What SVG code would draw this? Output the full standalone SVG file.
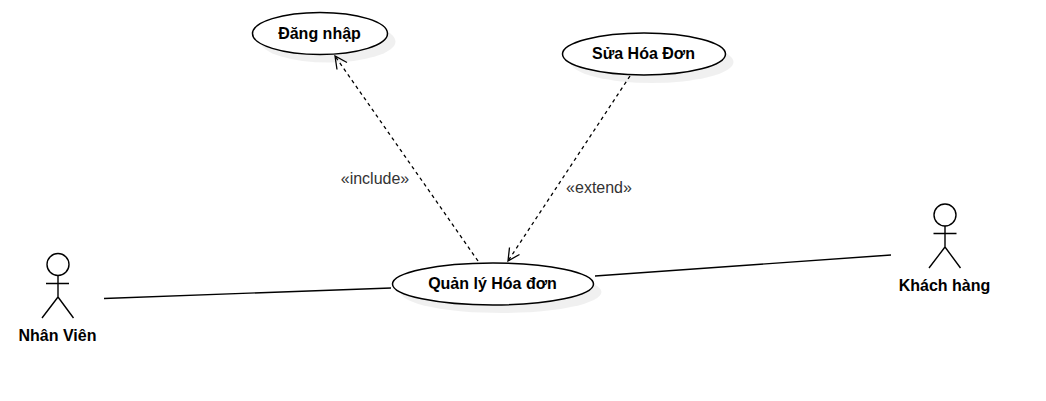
<svg xmlns="http://www.w3.org/2000/svg" width="1046" height="401" viewBox="0 0 1046 401">
<style>
.uc{fill:#fff;stroke:#000;stroke-width:1.5}
.sh{fill:#000;fill-opacity:.06;stroke:none}
.ln{fill:none;stroke:#000;stroke-width:1.3}
.d{fill:none;stroke:#000;stroke-width:1.3;stroke-dasharray:3.500 3.500}
.ah{fill:none;stroke:#000;stroke-width:1.3}
.act{fill:none;stroke:#000;stroke-width:1.4}
text{font-family:"Liberation Sans",Arial,sans-serif;font-size:16px;text-anchor:middle}
.b{font-weight:bold;fill:#000}
.l{fill:#333;font-size:16px}
</style>
<rect width="1046" height="401" fill="#fff"/>
<g id="connectors">
<line class="ln" x1="104" y1="298.500" x2="391" y2="288"/>
<line class="ln" x1="595" y1="276" x2="891" y2="255"/>
<line class="d" x1="478" y1="261" x2="335" y2="56"/>
<path class="ah" d="M337 69.500L335 56L347 62.500"/>
<line class="d" x1="630" y1="76" x2="508" y2="261"/>
<path class="ah" d="M509.500 247.500L508 261L519.500 254.500"/>
<text class="l" x="375" y="184">«include»</text>
<text class="l" x="599" y="193">«extend»</text>
</g>
<g id="uc-dangnhap">
<ellipse class="sh" cx="328" cy="41.500" rx="67.500" ry="21"/>
<ellipse class="uc" cx="320" cy="33.500" rx="67.500" ry="21"/>
<text class="b" x="319.500" y="39">Đăng nhập</text>
</g>
<g id="uc-suahoadon">
<ellipse class="sh" cx="652" cy="62" rx="81.500" ry="21"/>
<ellipse class="uc" cx="644" cy="54" rx="81.500" ry="21"/>
<text class="b" x="643.500" y="59">Sửa Hóa Đơn</text>
</g>
<g id="uc-quanly">
<ellipse class="sh" cx="501" cy="292" rx="100.500" ry="21"/>
<ellipse class="uc" cx="493" cy="284" rx="100.500" ry="21"/>
<text class="b" x="492.500" y="289">Quản lý Hóa đơn</text>
</g>
<g id="actor-nhanvien">
<circle class="act" cx="58" cy="264.500" r="11"/>
<path class="act" d="M58 275.500V297M46 283.500H69M42 318L58 297L73.500 318"/>
<text class="b" x="57.500" y="341">Nhân Viên</text>
</g>
<g id="actor-khachhang">
<circle class="act" cx="945" cy="215" r="11"/>
<path class="act" d="M945 226V247M933.500 233.500H956.500M929 268L945 247L960.500 268"/>
<text class="b" x="944.500" y="291">Khách hàng</text>
</g>
</svg>
